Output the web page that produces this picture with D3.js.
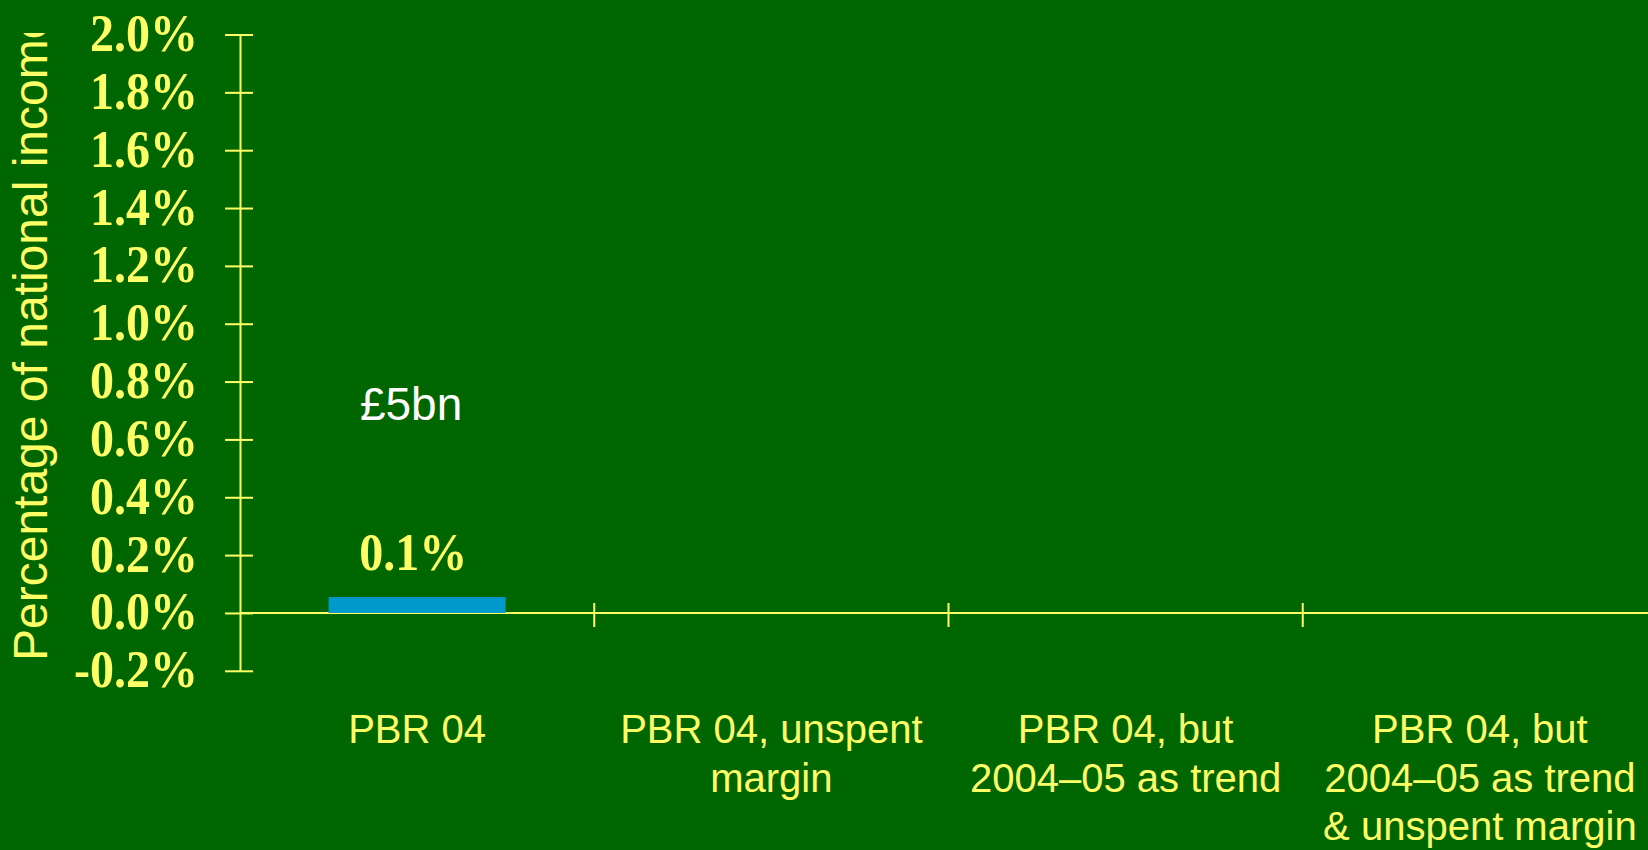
<!DOCTYPE html>
<html>
<head>
<meta charset="utf-8">
<script src="https://cdn.jsdelivr.net/npm/d3@7"></script>
<style>
  html, body { margin: 0; padding: 0; background: #006600; overflow: hidden; }
</style>
</head>
<body>
<div id="paper"></div>
<script>
// data

const categories = ["PBR 04", "PBR 04, unspent\nmargin", "PBR 04, but\n2004\u201305 as trend", "PBR 04, but\n2004\u201305 as trend\n& unspent margin"]
const values = [0.055, null, null, null]
const pctLabels = ["0.1%", "", "", ""]
const cashLabels = ["\u00a35bn", "", "", ""]
const yTicks = [-0.2, 0.0, 0.2, 0.4, 0.6, 0.8, 1.0, 1.2, 1.4, 1.6, 1.8, 2.0]
const yTitle = "Percentage of national income"

// look

const W = 1648, H = 850
const yellow = "#ffff66"
const bg = "#006600"
const barColor = "#0099cc"
const serif = "'Liberation Serif', 'Times New Roman', serif"
const sans = "'Liberation Sans', Arial, sans-serif"

const svg = d3.select("#paper")
    .append("svg")
    .attr("id", "canvas")
    .attr("width", W)
    .attr("height", H)
    .style("background-color", bg)

const y = d3.scaleLinear().domain([-0.2, 2.0]).range([670.8, 34.5])
const x = d3.scaleBand().domain(categories).range([240, 1657]).paddingInner(0.5).paddingOuter(0.25)

// y axis

const yAxis = d3.axisLeft(y).tickValues(yTicks).tickFormat(d => d.toFixed(1) + "%").tickSize(0)
const gy = svg.append("g").attr("transform", "translate(240,0)").call(yAxis)
gy.select(".domain").attr("stroke", yellow).attr("stroke-width", 2)
gy.selectAll(".tick line").attr("x1", -15).attr("x2", 13).attr("stroke", yellow).attr("stroke-width", 2)
gy.selectAll(".tick text")
    .attr("x", 0).attr("dy", null).attr("y", null)
    .attr("transform", "translate(-42,16) scale(1,1.08)")
    .attr("fill", yellow)
    .attr("font-family", serif)
    .attr("font-weight", "bold")
    .attr("font-size", "48px")
    .attr("text-anchor", "end")

// x axis line and category ticks

svg.append("line")
    .attr("x1", 240).attr("x2", W)
    .attr("y1", y(0)).attr("y2", y(0))
    .attr("stroke", yellow).attr("stroke-width", 2)

svg.selectAll(".cat-tick")
    .data(categories.slice(1))
    .join("line")
    .attr("class", "cat-tick")
    .attr("x1", d => x(d) - x.bandwidth() / 2).attr("x2", d => x(d) - x.bandwidth() / 2)
    .attr("y1", y(0) - 10).attr("y2", y(0) + 14)
    .attr("stroke", yellow).attr("stroke-width", 2)

// bars

svg.selectAll(".bar")
    .data(categories.map((c, i) => ({c: c, v: values[i]})).filter(d => d.v != null))
    .join("rect")
    .attr("class", "bar")
    .attr("x", d => x(d.c))
    .attr("width", x.bandwidth())
    .attr("y", d => y(d.v))
    .attr("height", d => y(0) - y(d.v))
    .attr("fill", barColor)

// value labels

categories.forEach((c, i) => {
    const cx = x(c) + x.bandwidth() / 2 - 4
    if (pctLabels[i]) {
        svg.append("text")
            .attr("transform", `translate(${cx},570) scale(1,1.08)`)
            .attr("text-anchor", "middle")
            .attr("font-family", serif)
            .attr("font-weight", "bold")
            .attr("font-size", "48px")
            .attr("fill", yellow)
            .text(pctLabels[i])
    }
    if (cashLabels[i]) {
        svg.append("text")
            .attr("x", cx - 2).attr("y", 420)
            .attr("text-anchor", "middle")
            .attr("font-family", sans)
            .attr("font-size", "46px")
            .attr("fill", "#ffffff")
            .text(cashLabels[i])
    }
})

// category labels

const lab = svg.selectAll(".cat-label")
    .data(categories)
    .join("text")
    .attr("class", "cat-label")
    .attr("text-anchor", "middle")
    .attr("font-family", sans)
    .attr("font-size", "40px")
    .attr("fill", yellow)

lab.selectAll("tspan")
    .data(d => d.split("\n").map(t => ({t: t, c: d})))
    .join("tspan")
    .attr("x", d => x(d.c) + x.bandwidth() / 2)
    .attr("y", (d, i) => 743 + i * 48.5)
    .text(d => d.t)

// y title, clipped at the top like the original

svg.append("clipPath").attr("id", "titleclip")
    .append("rect").attr("x", 0).attr("y", 33).attr("width", 100).attr("height", H)

svg.append("g").attr("clip-path", "url(#titleclip)")
    .append("text")
    .attr("transform", "translate(47,661) rotate(-90)")
    .attr("font-family", sans)
    .attr("font-size", "48px")
    .attr("fill", yellow)
    .text(yTitle)
</script>
</body>
</html>
